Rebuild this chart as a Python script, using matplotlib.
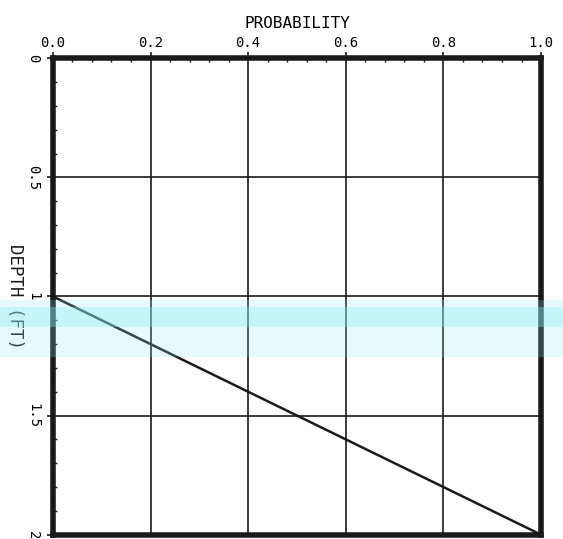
import matplotlib
matplotlib.use("Agg")
import matplotlib.pyplot as plt
from matplotlib.patches import Rectangle
from matplotlib.ticker import MultipleLocator

# probability of exceedance vs depth
probability = [0.0, 1.0]
depth_ft = [1.0, 2.0]

x_ticks = [0.0, 0.2, 0.4, 0.6, 0.8, 1.0]
x_tick_labels = ["0.0", "0.2", "0.4", "0.6", "0.8", "1.0"]
y_ticks = [0, 0.5, 1, 1.5, 2]
y_tick_labels = ["0", "0.5", "1", "1.5", "2"]

fig = plt.figure(figsize=(5.63, 5.39), dpi=100)
ax = fig.add_axes([0.094, 0.008, 0.867, 0.884])

ax.plot(probability, depth_ft, color="#1a1a1a", lw=1.8, zorder=3, clip_on=False)

ax.set_xlim(0, 1)
ax.set_ylim(2, 0)
ax.set_xticks(x_ticks)
ax.set_xticklabels(x_tick_labels, fontsize=10, family="DejaVu Sans Mono")
ax.set_yticks(y_ticks)
ax.set_yticklabels(y_tick_labels, fontsize=10, rotation=-90, va="center",
                   family="DejaVu Sans Mono")
ax.xaxis.set_minor_locator(MultipleLocator(0.04))
ax.yaxis.set_minor_locator(MultipleLocator(0.1))
ax.xaxis.tick_top()
ax.xaxis.set_label_position("top")
ax.tick_params(axis="both", which="major", length=4, width=1.2, color="#1a1a1a",
               direction="out", pad=2)
ax.tick_params(axis="y", which="major", pad=5)
ax.tick_params(axis="both", which="minor", length=3, width=1.0, color="#1a1a1a",
               direction="in")

ax.grid(True, which="major", color="#1a1a1a", lw=1.2)
ax.set_axisbelow(True)
for s in ax.spines.values():
    s.set_linewidth(4)
    s.set_color("#1a1a1a")

ax.set_xlabel("PROBABILITY", fontsize=11.5, family="DejaVu Sans Mono", labelpad=6)
fig.text(0.027, 0.449, "DEPTH (FT)", rotation=-90, fontsize=12.5,
         family="DejaVu Sans Mono", ha="center", va="center", color="#1a1a1a")

# faint highlighter stripe across the sheet
fig.patches.append(Rectangle((0, 0.338), 1, 0.105, transform=fig.transFigure,
                             facecolor="#8ee9f5", alpha=0.22, lw=0, zorder=5))
fig.patches.append(Rectangle((0, 0.393), 1, 0.037, transform=fig.transFigure,
                             facecolor="#8ee9f5", alpha=0.35, lw=0, zorder=5))

fig.savefig("out.png", dpi=100, facecolor="white")
